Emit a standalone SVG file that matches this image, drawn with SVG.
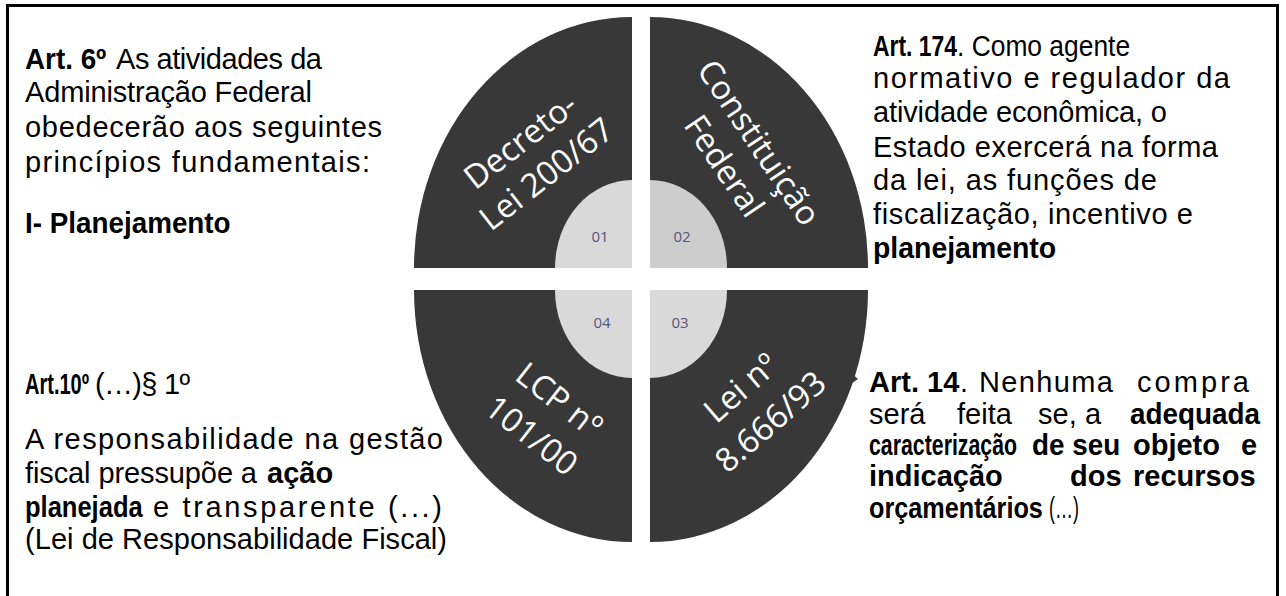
<svg xmlns="http://www.w3.org/2000/svg" width="1286" height="596" viewBox="0 0 1286 596">
<style>
.t{font-family:"Liberation Sans",Arial,sans-serif;font-size:29px;fill:#000}
.b{font-weight:bold}
.ring{fill:#383838}
.hub{fill:#d9d9d9}
.lbl{font-family:"Open Sans","Noto Sans",sans-serif;font-size:33px;fill:#fff;text-anchor:middle}
.num{font-family:"Open Sans","Noto Sans",sans-serif;font-size:15px;fill:#55557a;text-anchor:middle}
</style>
<rect width="1286" height="596" fill="#fff"/>
<path d="M7.5 600 V5.5 H1277.5 V600" fill="none" stroke="#000" stroke-width="3"/>

<g id="q01">
<path class="ring" d="M632 268 L414 268 A218 251 0 0 1 632 17 Z"/>
<path class="hub" d="M632 268 L555 268 A77 88 0 0 1 632 180 Z"/>
<text class="num" x="600" y="242">01</text>
<text class="lbl" transform="translate(533 157) rotate(-38)"><tspan x="0" y="-9">Decreto-</tspan><tspan x="0" y="33">Lei 200/67</tspan></text>
</g>

<g id="q02">
<path class="ring" d="M650 268 L650 17 A218 251 0 0 1 868 268 Z"/>
<path class="hub" style="fill:#cdcdcd" d="M650 268 L650 180 A77 88 0 0 1 727 268 Z"/>
<text class="num" x="682" y="242">02</text>
<text class="lbl" transform="translate(742 154) rotate(56)"><tspan x="0" y="-9">Constituição</tspan><tspan x="0" y="33">Federal</tspan></text>
</g>

<g id="q03">
<path class="ring" d="M650 290 L868 290 A218 252 0 0 1 650 542 Z"/>
<path class="ring" d="M849 371 L858 379 L848 386 Z"/>
<path class="hub" d="M650 290 L727 290 A77 88 0 0 1 650 378 Z"/>
<text class="num" x="680" y="328">03</text>
<text class="lbl" transform="translate(755 404) rotate(-41)"><tspan x="0" y="-10">Lei nº</tspan><tspan x="0" y="35">8.666/93</tspan></text>
</g>

<g id="q04">
<path class="ring" d="M632 290 L632 542 A218 252 0 0 1 414 290 Z"/>
<path class="hub" d="M632 290 L632 378 A77 88 0 0 1 555 290 Z"/>
<text class="num" x="602" y="328">04</text>
<text class="lbl" transform="translate(546 417) rotate(38)"><tspan x="0" y="-10">LCP nº</tspan><tspan x="0" y="35">101/00</tspan></text>
</g>

<g id="txt-art6">
<text class="t b" transform="translate(25 69) scale(0.96 1)">Art. 6º</text>
<text class="t" x="116" y="69" textLength="206">As atividades da</text>
<text class="t" x="25" y="102" textLength="287">Administração Federal</text>
<text class="t" x="25" y="137" textLength="357">obedecerão aos seguintes</text>
<text class="t" x="25" y="172" textLength="345">princípios fundamentais:</text>
<text class="t b" transform="translate(25 233) scale(0.96 1)">I- Planejamento</text>
</g>

<g id="txt-art174">
<text class="t b" transform="translate(873 56) scale(0.79 1)">Art. 174</text>
<text class="t" transform="translate(957 56) scale(0.91 1)">. Como agente</text>
<text class="t" x="873" y="88" textLength="357">normativo e regulador da</text>
<text class="t" x="873" y="122" textLength="294">atividade econômica, o</text>
<text class="t" x="873" y="157" textLength="345">Estado exercerá na forma</text>
<text class="t" x="873" y="190" textLength="284">da lei, as funções de</text>
<text class="t" x="873" y="224" textLength="320">fiscalização, incentivo e</text>
<text class="t b" transform="translate(873 258) scale(0.98 1)">planejamento</text>
</g>

<g id="txt-art10">
<text class="t b" transform="translate(25 394) scale(0.69 1)">Art.10º</text>
<text class="t" x="95" y="394" textLength="95">(…)§ 1º</text>
<text class="t" x="25" y="449" textLength="418">A responsabilidade na gestão</text>
<text class="t" x="25" y="483" textLength="232">fiscal pressupõe  a</text>
<text class="t b" x="267" y="483">ação</text>
<text class="t b" transform="translate(25 517) scale(0.88 1)">planejada</text>
<text class="t" x="153" y="517" textLength="289">e transparente (...)</text>
<text class="t" x="25" y="549" textLength="422">(Lei de Responsabilidade Fiscal)</text>
</g>

<g id="txt-art14">
<text class="t b" x="869" y="392">Art. 14</text>
<text class="t" x="960" y="392" textLength="153">. Nenhuma</text>
<text class="t" x="1137" y="392" textLength="112">compra</text>
<text class="t" x="869" y="424">será</text>
<text class="t" x="957" y="424">feita</text>
<text class="t" x="1038" y="424">se,</text>
<text class="t" x="1085" y="424">a</text>
<text class="t b" transform="translate(1130 424) scale(0.96 1)">adequada</text>
<text class="t b" transform="translate(869 455) scale(0.735 1)">caracterização</text>
<text class="t b" transform="translate(1032 455) scale(0.96 1)">de seu</text>
<text class="t b" x="1133" y="455">objeto</text>
<text class="t b" x="1241" y="455">e</text>
<text class="t b" x="869" y="486">indicação</text>
<text class="t b" x="1070" y="486">dos</text>
<text class="t b" x="1133" y="486">recursos</text>
<text class="t b" transform="translate(869 518) scale(0.87 1)">orçamentários</text>
<text class="t" transform="translate(1049 518) scale(0.62 1)">(…)</text>
</g>
</svg>
